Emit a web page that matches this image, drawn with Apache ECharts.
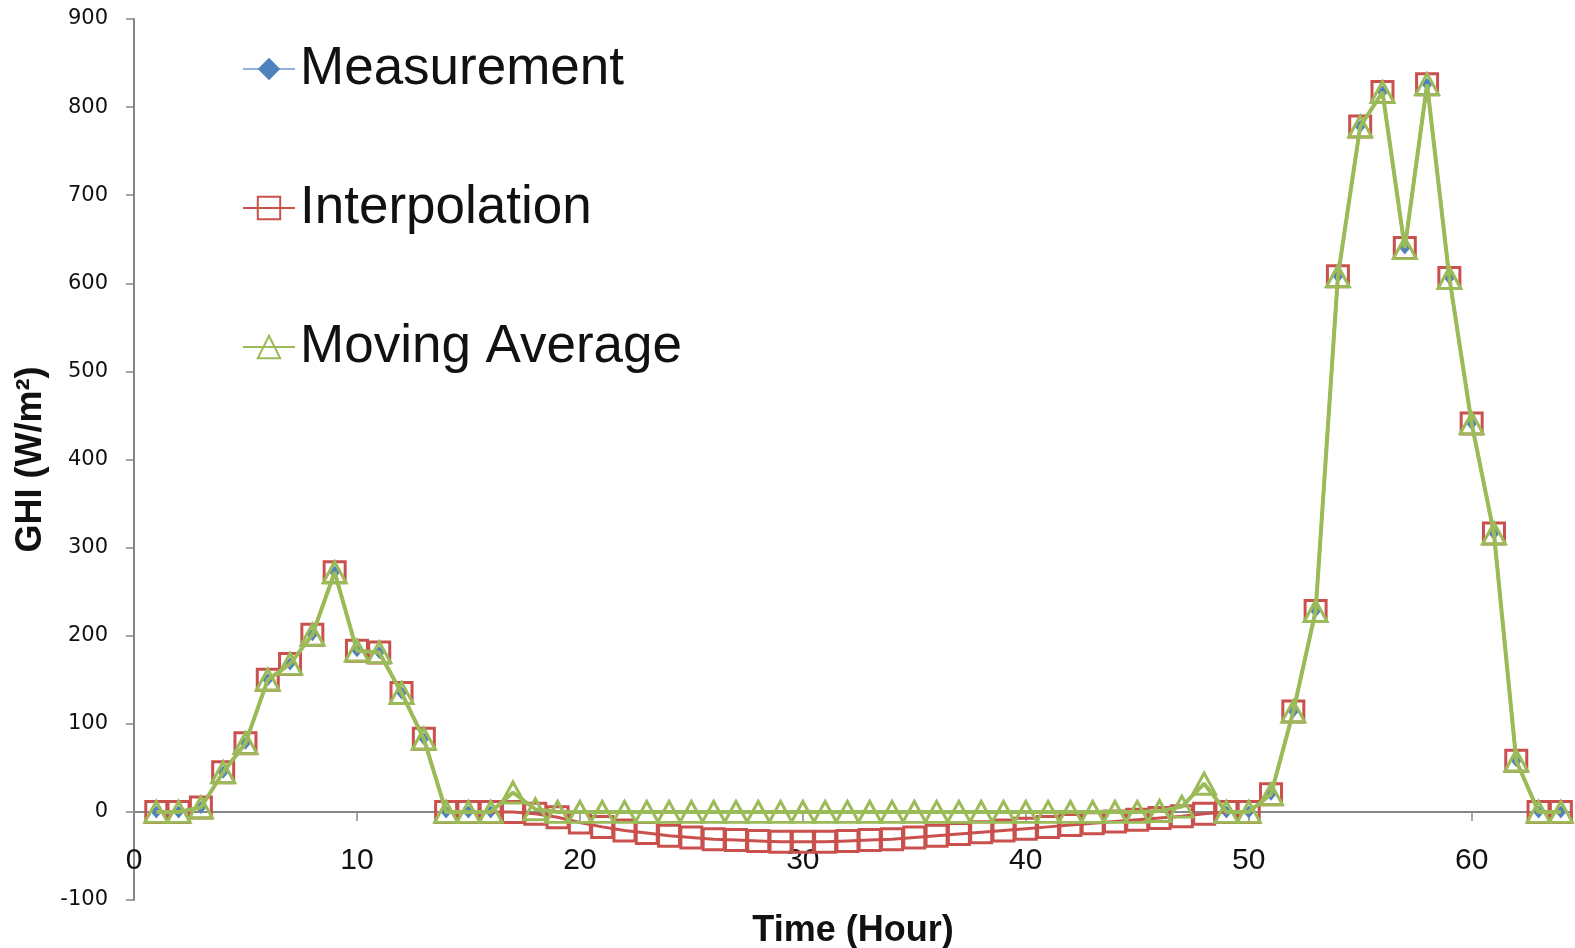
<!DOCTYPE html>
<html>
<head>
<meta charset="utf-8">
<script src="https://cdn.jsdelivr.net/npm/echarts@6/dist/echarts.min.js"></script>
<style>
  html, body { margin: 0; padding: 0; background: #fff; }
  #chart { width: 1575px; height: 948px; }
</style>
</head>
<body>
<div id="chart"></div>
<script>
// ---- data ----
const hours = [1,2,3,4,5,6,7,8,9,10,11,12,13,14,15,16,17,18,19,20,21,22,23,24,25,26,27,28,29,30,31,32,
               33,34,35,36,37,38,39,40,41,42,43,44,45,46,47,48,49,50,51,52,53,54,55,56,57,58,59,60,61,62,63,64];

const measurement = [0,0,5,45,78,150,168,201,272,183,181,135,83,0,0,0,
  null,null,null,null,null,null,null,null,null,null,null,null,null,null,null,null,
  null,null,null,null,null,null,null,null,null,null,null,null,null,null,null,null,
  0,0,20,114,228,608,778,817,640,826,606,441,316,58,0,0];

const interpolation = [0,0,5,45,78,150,168,201,272,183,181,135,83,0,0,0,
  0,-2,-6,-12,-17,-21,-24,-27,-29,-31,-32,-33,-34,-34,-34,-33,
  -32,-31,-29,-27,-25,-23,-21,-19,-17,-15,-13,-11,-9,-7,-5,-2,
  0,0,20,114,228,608,778,817,640,826,606,441,316,58,0,0];

const movingAverage = [0,0,5,45,78,150,168,201,272,183,181,135,83,0,0,0,
  22,3,0,0,0,0,0,0,0,0,0,0,0,0,0,0,
  0,0,0,0,0,0,0,0,0,0,0,0,0,1,6,32,
  0,0,20,114,228,608,778,817,640,826,606,441,316,58,0,0];

const yTicks = { min: -100, max: 900, interval: 100 };
const xTicks = { min: 0, max: 64.5, interval: 10 };

const pairs = arr => hours.map((h, i) => [h, arr[i]]);

const axisGrey = '#868686';

const chart = echarts.init(document.getElementById('chart'), null, { renderer: 'canvas' });
chart.setOption({
  animation: false,
  backgroundColor: '#ffffff',
  grid: { left: 134, right: 3, top: 19, bottom: 48, containLabel: false, outerBoundsMode: 'none' },
  legend: {
    orient: 'vertical',
    left: 237,
    top: 34,
    itemWidth: 52,
    itemHeight: 28,
    itemGap: 79,
    textStyle: { fontFamily: 'Liberation Sans', fontSize: 53, lineHeight: 60, color: '#111' },
    data: ['Measurement', 'Interpolation', 'Moving Average']
  },
  xAxis: {
    type: 'value',
    min: xTicks.min, max: xTicks.max, interval: xTicks.interval,
    splitLine: { show: false },
    axisLine: { onZero: true, lineStyle: { color: axisGrey, width: 2 } },
    axisTick: { show: true, inside: false, length: 9, lineStyle: { color: axisGrey, width: 1.5 } },
    axisLabel: {
      margin: -54, fontFamily: 'Liberation Sans', fontSize: 30, color: '#111',
      formatter: v => (v % 10 === 0 ? String(v) : '')
    },
    name: 'Time (Hour)',
    nameLocation: 'middle',
    nameGap: 13,
    nameTextStyle: { fontFamily: 'Liberation Sans', fontWeight: 'bold', fontSize: 36, color: '#111' }
  },
  yAxis: {
    type: 'value',
    min: yTicks.min, max: yTicks.max, interval: yTicks.interval,
    splitLine: { show: false },
    axisLine: { show: true, lineStyle: { color: axisGrey, width: 2 } },
    axisTick: { show: true, inside: false, length: 8, lineStyle: { color: axisGrey, width: 1.5 } },
    axisLabel: { margin: 26, fontFamily: 'DejaVu Sans', fontSize: 21, color: '#111' },
    name: 'GHI (W/m²)',
    nameLocation: 'middle',
    nameGap: 78,
    nameTextStyle: { fontFamily: 'Liberation Sans', fontWeight: 'bold', fontSize: 36, color: '#111' }
  },
  series: [
    {
      name: 'Measurement',
      type: 'line',
      data: pairs(measurement),
      connectNulls: false,
      symbol: 'diamond',
      symbolSize: [11, 13],
      itemStyle: { color: '#4f81bd' },
      lineStyle: { color: '#8fb0dc', width: 2 },
      z: 2
    },
    {
      name: 'Interpolation',
      type: 'line',
      data: pairs(interpolation),
      symbol: 'rect',
      symbolSize: 21,
      itemStyle: { color: 'transparent', borderColor: '#c9504d', borderWidth: 3 },
      lineStyle: { color: '#c9504d', width: 3 },
      z: 3
    },
    {
      name: 'Moving Average',
      type: 'line',
      data: pairs(movingAverage),
      symbol: 'triangle',
      symbolSize: [23, 21],
      itemStyle: { color: 'transparent', borderColor: '#9bbb59', borderWidth: 3 },
      lineStyle: { color: '#9bbb59', width: 4 },
      z: 4
    }
  ]
});
</script>
</body>
</html>
